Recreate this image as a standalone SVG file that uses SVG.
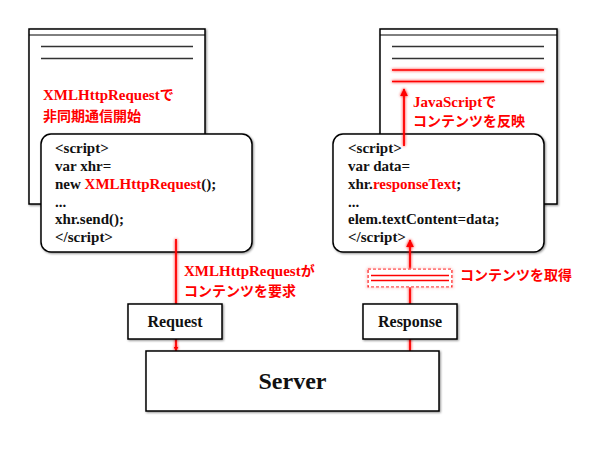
<svg xmlns="http://www.w3.org/2000/svg" width="600" height="450" viewBox="0 0 600 450">
<defs>
<style>
.box{fill:#fff;stroke:#000;stroke-width:1.5}
.ln{stroke:#333;stroke-width:1.5}
.rl{stroke:#f00;stroke-width:1.8;fill:none}
text{font-family:"Liberation Serif","Noto Sans CJK JP",serif;font-weight:bold;fill:#111}
.code{font-size:15px}
.lab{font-size:15px;fill:#f00}
.jp{font-size:14px}
.red{fill:#f00}
</style>
<filter id="sh" x="-10%" y="-10%" width="120%" height="120%">
<feDropShadow dx="1" dy="1" stdDeviation="1.2" flood-opacity="0.45"/>
</filter>
<filter id="glow" x="-20%" y="-50%" width="140%" height="200%">
<feGaussianBlur in="SourceGraphic" stdDeviation="1.5" result="b"/>
<feMerge><feMergeNode in="b"/><feMergeNode in="SourceGraphic"/></feMerge>
</filter>
<marker id="ah" viewBox="0 0 10 10" refX="9" refY="5" markerWidth="5" markerHeight="5" orient="auto" markerUnits="userSpaceOnUse">
<path d="M0,0 L10,5 L0,10 z" fill="#f00"/>
</marker>
<marker id="ah2" viewBox="0 0 10 10" refX="9" refY="5" markerWidth="8" markerHeight="8" orient="auto" markerUnits="userSpaceOnUse">
<path d="M0,0 L10,5 L0,10 z" fill="#f00"/>
</marker>
</defs>
<rect width="600" height="450" fill="#fff"/>

<g id="page-left">
<rect class="box" x="29" y="29" width="176" height="175" filter="url(#sh)"/>
<line class="ln" x1="29" y1="35" x2="205" y2="35" style="stroke:#000;stroke-width:1"/>
<line class="ln" x1="41" y1="46.5" x2="193" y2="46.5"/>
<line class="ln" x1="41" y1="58.5" x2="193" y2="58.5"/>
<text class="lab" x="43" y="100">XMLHttpRequest<tspan class="jp">で</tspan></text>
<text class="lab jp" x="43" y="121">非同期通信開始</text>
</g>

<g id="page-right">
<rect class="box" x="380" y="29" width="177" height="175" filter="url(#sh)"/>
<line class="ln" x1="380" y1="35" x2="557" y2="35" style="stroke:#000;stroke-width:1"/>
<line class="ln" x1="392" y1="46.5" x2="544" y2="46.5"/>
<line class="ln" x1="392" y1="58.5" x2="544" y2="58.5"/>
<g filter="url(#glow)">
<line class="rl" x1="392" y1="70" x2="544" y2="70" style="stroke-width:1.3"/>
<line class="rl" x1="392" y1="81.5" x2="544" y2="81.5" style="stroke-width:1.3"/>
</g>
<text class="lab" x="413" y="107">JavaScript<tspan class="jp">で</tspan></text>
<text class="lab jp" x="413" y="126">コンテンツを反映</text>
</g>

<g id="code-left">
<rect class="box" x="41" y="134" width="211" height="118" rx="10" filter="url(#sh)"/>
<text class="code" x="55" y="153">&lt;script&gt;</text>
<text class="code" x="55" y="171">var xhr=</text>
<text class="code" x="55" y="189">new <tspan class="red">XMLHttpRequest</tspan>();</text>
<text class="code" x="55" y="207">...</text>
<text class="code" x="55" y="224">xhr.send();</text>
<text class="code" x="55" y="242">&lt;/script&gt;</text>
</g>

<g id="code-right">
<rect class="box" x="333" y="134" width="211" height="118" rx="10" filter="url(#sh)"/>
<text class="code" x="348" y="153">&lt;script&gt;</text>
<text class="code" x="348" y="171">var data=</text>
<text class="code" x="348" y="189">xhr.<tspan class="red">responseText</tspan>;</text>
<text class="code" x="348" y="207">...</text>
<text class="code" x="348" y="224">elem.textContent=data;</text>
<text class="code" x="348" y="242">&lt;/script&gt;</text>
</g>

<g id="connectors" filter="url(#glow)">
<line class="rl" x1="404" y1="146" x2="404" y2="89" marker-end="url(#ah2)"/>
<line class="rl" x1="176" y1="239" x2="176" y2="351" marker-end="url(#ah)"/>
<line class="rl" x1="410" y1="351" x2="410" y2="240" marker-end="url(#ah2)"/>
</g>

<g id="request">
<rect class="box" x="128" y="304" width="94" height="35" filter="url(#sh)"/>
<text x="175" y="327" font-size="16" text-anchor="middle">Request</text>
</g>

<g id="response">
<rect class="box" x="363" y="304" width="94" height="35" filter="url(#sh)"/>
<text x="410" y="327" font-size="16" text-anchor="middle">Response</text>
</g>

<g id="server">
<rect class="box" x="146" y="351" width="293" height="60" filter="url(#sh)"/>
<text x="292.5" y="389" font-size="24" text-anchor="middle">Server</text>
</g>

<g id="content-packet" filter="url(#glow)">
<rect x="368" y="269" width="84" height="18" fill="#fff" stroke="#f00" stroke-width="1.2" stroke-dasharray="3,2"/>
<line class="rl" x1="371" y1="275.5" x2="449" y2="275.5" style="stroke-width:1.5"/>
<line class="rl" x1="371" y1="280.5" x2="449" y2="280.5" style="stroke-width:1.5"/>
</g>

<g id="labels">
<text class="lab" x="184" y="276">XMLHttpRequest<tspan class="jp">が</tspan></text>
<text class="lab jp" x="184" y="296">コンテンツを要求</text>
<text class="lab jp" x="460" y="280">コンテンツを取得</text>
</g>
</svg>
